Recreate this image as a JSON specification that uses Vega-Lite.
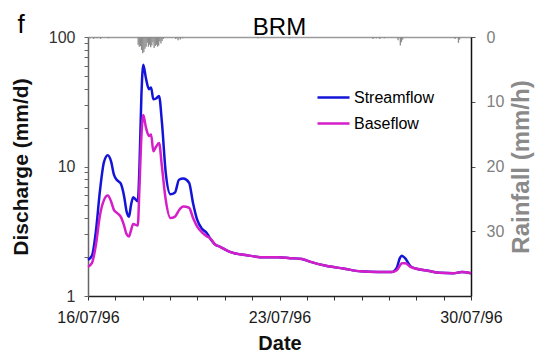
{
  "$schema": "https://vega.github.io/schema/vega-lite/v6.json",
  "width": 383,
  "height": 259,
  "autosize": {"type": "none"},
  "padding": {"left": 88, "top": 37, "right": 68, "bottom": 56},
  "background": "white",
  "config": {
    "font": "Liberation Sans",
    "view": {"stroke": null},
    "axis": {"grid": false}
  },
  "title": {"text": "BRM", "fontSize": 24, "fontWeight": "normal", "color": "#000000", "anchor": "middle", "frame": "group", "offset": -29},
  "datasets": {
    "flow": [
      {"series": "Streamflow", "date": "1996-07-16T00:00", "q": 1.9},
      {"series": "Streamflow", "date": "1996-07-16T03:30", "q": 2.05},
      {"series": "Streamflow", "date": "1996-07-16T07:00", "q": 3.2},
      {"series": "Streamflow", "date": "1996-07-16T10:30", "q": 6.5},
      {"series": "Streamflow", "date": "1996-07-16T14:00", "q": 10.8},
      {"series": "Streamflow", "date": "1996-07-16T17:20", "q": 12.2},
      {"series": "Streamflow", "date": "1996-07-16T20:10", "q": 11.0},
      {"series": "Streamflow", "date": "1996-07-16T22:50", "q": 8.6},
      {"series": "Streamflow", "date": "1996-07-17T01:10", "q": 7.9},
      {"series": "Streamflow", "date": "1996-07-17T04:40", "q": 7.4},
      {"series": "Streamflow", "date": "1996-07-17T07:40", "q": 5.9},
      {"series": "Streamflow", "date": "1996-07-17T09:50", "q": 4.5},
      {"series": "Streamflow", "date": "1996-07-17T12:00", "q": 4.1},
      {"series": "Streamflow", "date": "1996-07-17T13:40", "q": 5.0},
      {"series": "Streamflow", "date": "1996-07-17T15:40", "q": 5.8},
      {"series": "Streamflow", "date": "1996-07-17T19:40", "q": 5.4},
      {"series": "Streamflow", "date": "1996-07-17T21:10", "q": 10},
      {"series": "Streamflow", "date": "1996-07-17T22:50", "q": 35},
      {"series": "Streamflow", "date": "1996-07-18T00:30", "q": 61},
      {"series": "Streamflow", "date": "1996-07-18T02:50", "q": 48},
      {"series": "Streamflow", "date": "1996-07-18T05:30", "q": 39.5},
      {"series": "Streamflow", "date": "1996-07-18T07:20", "q": 40.8},
      {"series": "Streamflow", "date": "1996-07-18T09:20", "q": 33},
      {"series": "Streamflow", "date": "1996-07-18T11:40", "q": 33.5},
      {"series": "Streamflow", "date": "1996-07-18T14:20", "q": 35},
      {"series": "Streamflow", "date": "1996-07-18T16:50", "q": 22},
      {"series": "Streamflow", "date": "1996-07-18T20:10", "q": 9},
      {"series": "Streamflow", "date": "1996-07-19T00:20", "q": 6.1},
      {"series": "Streamflow", "date": "1996-07-19T04:20", "q": 6.3},
      {"series": "Streamflow", "date": "1996-07-19T07:50", "q": 7.9},
      {"series": "Streamflow", "date": "1996-07-19T11:40", "q": 8.07},
      {"series": "Streamflow", "date": "1996-07-19T16:40", "q": 7.5},
      {"series": "Streamflow", "date": "1996-07-19T20:10", "q": 5.2},
      {"series": "Streamflow", "date": "1996-07-19T23:40", "q": 3.9},
      {"series": "Streamflow", "date": "1996-07-20T04:00", "q": 3.3},
      {"series": "Streamflow", "date": "1996-07-20T08:00", "q": 3.08},
      {"series": "Streamflow", "date": "1996-07-20T11:00", "q": 2.8},
      {"series": "Streamflow", "date": "1996-07-20T15:30", "q": 2.5},
      {"series": "Streamflow", "date": "1996-07-20T20:00", "q": 2.4},
      {"series": "Streamflow", "date": "1996-07-21T04:30", "q": 2.19},
      {"series": "Streamflow", "date": "1996-07-21T19:30", "q": 2.06},
      {"series": "Streamflow", "date": "1996-07-22T10:50", "q": 1.99},
      {"series": "Streamflow", "date": "1996-07-22T22:40", "q": 1.99},
      {"series": "Streamflow", "date": "1996-07-23T09:10", "q": 1.96},
      {"series": "Streamflow", "date": "1996-07-23T19:40", "q": 1.93},
      {"series": "Streamflow", "date": "1996-07-24T01:50", "q": 1.85},
      {"series": "Streamflow", "date": "1996-07-24T16:40", "q": 1.71},
      {"series": "Streamflow", "date": "1996-07-25T08:00", "q": 1.63},
      {"series": "Streamflow", "date": "1996-07-25T23:10", "q": 1.55},
      {"series": "Streamflow", "date": "1996-07-26T14:20", "q": 1.53},
      {"series": "Streamflow", "date": "1996-07-27T02:20", "q": 1.53},
      {"series": "Streamflow", "date": "1996-07-27T06:50", "q": 1.65},
      {"series": "Streamflow", "date": "1996-07-27T09:40", "q": 1.97},
      {"series": "Streamflow", "date": "1996-07-27T11:20", "q": 2.05},
      {"series": "Streamflow", "date": "1996-07-27T14:20", "q": 1.95},
      {"series": "Streamflow", "date": "1996-07-27T18:50", "q": 1.7},
      {"series": "Streamflow", "date": "1996-07-27T23:20", "q": 1.63},
      {"series": "Streamflow", "date": "1996-07-28T11:20", "q": 1.56},
      {"series": "Streamflow", "date": "1996-07-28T20:20", "q": 1.51},
      {"series": "Streamflow", "date": "1996-07-29T08:30", "q": 1.5},
      {"series": "Streamflow", "date": "1996-07-29T16:00", "q": 1.53},
      {"series": "Streamflow", "date": "1996-07-30T00:00", "q": 1.5},
      {"series": "Baseflow", "date": "1996-07-16T00:00", "q": 1.68},
      {"series": "Baseflow", "date": "1996-07-16T03:30", "q": 1.8},
      {"series": "Baseflow", "date": "1996-07-16T07:00", "q": 2.5},
      {"series": "Baseflow", "date": "1996-07-16T10:30", "q": 4.2},
      {"series": "Baseflow", "date": "1996-07-16T14:00", "q": 5.5},
      {"series": "Baseflow", "date": "1996-07-16T17:20", "q": 5.96},
      {"series": "Baseflow", "date": "1996-07-16T20:10", "q": 5.4},
      {"series": "Baseflow", "date": "1996-07-16T22:50", "q": 4.6},
      {"series": "Baseflow", "date": "1996-07-17T01:10", "q": 4.4},
      {"series": "Baseflow", "date": "1996-07-17T04:40", "q": 4.1},
      {"series": "Baseflow", "date": "1996-07-17T07:40", "q": 3.5},
      {"series": "Baseflow", "date": "1996-07-17T09:50", "q": 3.0},
      {"series": "Baseflow", "date": "1996-07-17T12:00", "q": 2.88},
      {"series": "Baseflow", "date": "1996-07-17T13:40", "q": 3.2},
      {"series": "Baseflow", "date": "1996-07-17T15:40", "q": 3.6},
      {"series": "Baseflow", "date": "1996-07-17T19:40", "q": 3.5},
      {"series": "Baseflow", "date": "1996-07-17T21:10", "q": 7},
      {"series": "Baseflow", "date": "1996-07-17T22:50", "q": 17},
      {"series": "Baseflow", "date": "1996-07-18T00:30", "q": 25},
      {"series": "Baseflow", "date": "1996-07-18T02:50", "q": 20},
      {"series": "Baseflow", "date": "1996-07-18T05:30", "q": 17.2},
      {"series": "Baseflow", "date": "1996-07-18T07:20", "q": 17.7},
      {"series": "Baseflow", "date": "1996-07-18T09:20", "q": 13.1},
      {"series": "Baseflow", "date": "1996-07-18T11:40", "q": 14.2},
      {"series": "Baseflow", "date": "1996-07-18T14:20", "q": 15.2},
      {"series": "Baseflow", "date": "1996-07-18T16:50", "q": 10},
      {"series": "Baseflow", "date": "1996-07-18T20:10", "q": 5.55},
      {"series": "Baseflow", "date": "1996-07-19T00:20", "q": 4.0},
      {"series": "Baseflow", "date": "1996-07-19T04:20", "q": 4.1},
      {"series": "Baseflow", "date": "1996-07-19T07:50", "q": 4.6},
      {"series": "Baseflow", "date": "1996-07-19T11:40", "q": 4.9},
      {"series": "Baseflow", "date": "1996-07-19T16:40", "q": 4.8},
      {"series": "Baseflow", "date": "1996-07-19T20:10", "q": 4.0},
      {"series": "Baseflow", "date": "1996-07-19T23:40", "q": 3.45},
      {"series": "Baseflow", "date": "1996-07-20T04:00", "q": 3.1},
      {"series": "Baseflow", "date": "1996-07-20T08:00", "q": 2.9},
      {"series": "Baseflow", "date": "1996-07-20T11:00", "q": 2.8},
      {"series": "Baseflow", "date": "1996-07-20T15:30", "q": 2.5},
      {"series": "Baseflow", "date": "1996-07-20T20:00", "q": 2.4},
      {"series": "Baseflow", "date": "1996-07-21T04:30", "q": 2.19},
      {"series": "Baseflow", "date": "1996-07-21T19:30", "q": 2.06},
      {"series": "Baseflow", "date": "1996-07-22T10:50", "q": 1.99},
      {"series": "Baseflow", "date": "1996-07-22T22:40", "q": 1.99},
      {"series": "Baseflow", "date": "1996-07-23T09:10", "q": 1.96},
      {"series": "Baseflow", "date": "1996-07-23T19:40", "q": 1.93},
      {"series": "Baseflow", "date": "1996-07-24T01:50", "q": 1.85},
      {"series": "Baseflow", "date": "1996-07-24T16:40", "q": 1.71},
      {"series": "Baseflow", "date": "1996-07-25T08:00", "q": 1.63},
      {"series": "Baseflow", "date": "1996-07-25T23:10", "q": 1.55},
      {"series": "Baseflow", "date": "1996-07-26T14:20", "q": 1.53},
      {"series": "Baseflow", "date": "1996-07-27T02:20", "q": 1.53},
      {"series": "Baseflow", "date": "1996-07-27T06:50", "q": 1.58},
      {"series": "Baseflow", "date": "1996-07-27T09:40", "q": 1.72},
      {"series": "Baseflow", "date": "1996-07-27T11:20", "q": 1.79},
      {"series": "Baseflow", "date": "1996-07-27T14:20", "q": 1.79},
      {"series": "Baseflow", "date": "1996-07-27T18:50", "q": 1.68},
      {"series": "Baseflow", "date": "1996-07-27T23:20", "q": 1.63},
      {"series": "Baseflow", "date": "1996-07-28T11:20", "q": 1.56},
      {"series": "Baseflow", "date": "1996-07-28T20:20", "q": 1.51},
      {"series": "Baseflow", "date": "1996-07-29T08:30", "q": 1.5},
      {"series": "Baseflow", "date": "1996-07-29T16:00", "q": 1.53},
      {"series": "Baseflow", "date": "1996-07-30T00:00", "q": 1.5}
    ],
    "rain": [
      {"date": "1996-07-16T02:00", "rain": 0.2},
      {"date": "1996-07-16T05:00", "rain": 0.3},
      {"date": "1996-07-16T08:00", "rain": 0.2},
      {"date": "1996-07-16T11:00", "rain": 0.3},
      {"date": "1996-07-16T18:00", "rain": 0.2},
      {"date": "1996-07-17T20:00", "rain": 1.2},
      {"date": "1996-07-17T21:00", "rain": 1.5},
      {"date": "1996-07-17T22:00", "rain": 1.4},
      {"date": "1996-07-17T23:00", "rain": 2.0},
      {"date": "1996-07-18T00:00", "rain": 2.5},
      {"date": "1996-07-18T01:00", "rain": 2.3},
      {"date": "1996-07-18T02:00", "rain": 1.8},
      {"date": "1996-07-18T03:00", "rain": 1.5},
      {"date": "1996-07-18T04:00", "rain": 0.9},
      {"date": "1996-07-18T05:00", "rain": 1.5},
      {"date": "1996-07-18T06:00", "rain": 1.2},
      {"date": "1996-07-18T07:00", "rain": 1.6},
      {"date": "1996-07-18T08:00", "rain": 1.3},
      {"date": "1996-07-18T09:00", "rain": 0.8},
      {"date": "1996-07-18T10:00", "rain": 1.7},
      {"date": "1996-07-18T11:00", "rain": 1.4},
      {"date": "1996-07-18T12:00", "rain": 1.2},
      {"date": "1996-07-18T13:00", "rain": 1.5},
      {"date": "1996-07-18T14:00", "rain": 1.3},
      {"date": "1996-07-18T15:00", "rain": 0.7},
      {"date": "1996-07-18T16:00", "rain": 1.0},
      {"date": "1996-07-18T17:00", "rain": 0.6},
      {"date": "1996-07-18T18:00", "rain": 0.3},
      {"date": "1996-07-19T05:00", "rain": 0.3},
      {"date": "1996-07-19T07:00", "rain": 0.5},
      {"date": "1996-07-19T09:00", "rain": 0.4},
      {"date": "1996-07-19T11:00", "rain": 0.2},
      {"date": "1996-07-22T05:00", "rain": 0.2},
      {"date": "1996-07-23T09:00", "rain": 0.2},
      {"date": "1996-07-26T10:00", "rain": 0.3},
      {"date": "1996-07-26T13:00", "rain": 0.2},
      {"date": "1996-07-26T16:00", "rain": 0.3},
      {"date": "1996-07-26T20:00", "rain": 0.2},
      {"date": "1996-07-27T08:00", "rain": 0.5},
      {"date": "1996-07-27T10:00", "rain": 1.3},
      {"date": "1996-07-27T11:00", "rain": 0.8},
      {"date": "1996-07-27T12:00", "rain": 0.4},
      {"date": "1996-07-29T10:00", "rain": 0.3},
      {"date": "1996-07-29T13:00", "rain": 0.9},
      {"date": "1996-07-29T14:00", "rain": 0.4}
    ]
  },
  "layer": [
    {
      "data": {"name": "flow"},
      "mark": {"type": "line", "strokeWidth": 2.5, "interpolate": "monotone"},
      "encoding": {
        "x": {
          "field": "date", "type": "temporal",
          "scale": {"domain": [{"year": 1996, "month": 7, "date": 16}, {"year": 1996, "month": 7, "date": 30}], "padding": 0, "nice": false},
          "axis": {
            "orient": "bottom", "title": "Date",
            "tickCount": {"interval": "day", "step": 1},
            "labelExpr": "date(datum.value) % 7 == 2 ? timeFormat(datum.value, '%d/%m/%y') : ''",
            "labelOverlap": false, "labelFlush": false, "labelBound": false,
            "labelFontSize": 16, "labelColor": "#1a1a1a", "labelPadding": 9,
            "tickSize": 4, "tickColor": "#333333", "domainColor": "#222222", "domainWidth": 1.5,
            "titleFontSize": 20, "titleFontWeight": "bold", "titleColor": "#111111", "titlePadding": 8
          }
        },
        "y": {
          "field": "q", "type": "quantitative",
          "scale": {"type": "log", "domain": [1, 100]},
          "axis": {
            "orient": "left", "title": "Discharge (mm/d)",
            "values": [1, 2, 3, 4, 5, 6, 7, 8, 9, 10, 20, 30, 40, 50, 60, 70, 80, 90, 100],
            "labelExpr": "datum.value == 1 || datum.value == 10 || datum.value == 100 ? format(datum.value, 'd') : ''",
            "labelOverlap": false, "labelFlush": false,
            "labelFontSize": 16, "labelColor": "#333333", "labelPadding": 9,
            "tickSize": 4, "tickColor": "#666666", "domainColor": "#666666", "domainWidth": 1.5,
            "titleFontSize": 21, "titleFontWeight": "bold", "titleColor": "#111111", "titlePadding": 17
          }
        },
        "color": {
          "field": "series", "type": "nominal",
          "scale": {"domain": ["Streamflow", "Baseflow"], "range": ["#1414d8", "#d41ec8"]},
          "legend": {
            "orient": "none", "legendX": 228, "legendY": 43, "title": null, "padding": 0,
            "symbolType": "stroke", "symbolSize": 1024, "symbolStrokeWidth": 2.5,
            "labelFontSize": 16, "labelColor": "#000000", "labelOffset": 3, "rowPadding": 0
          }
        }
      }
    },
    {
      "data": {"name": "rain"},
      "mark": {"type": "bar", "width": 1.3, "color": "#8c8c8c"},
      "encoding": {
        "x": {
          "field": "date", "type": "temporal",
          "axis": {
            "orient": "top", "title": "f", "labels": false, "ticks": false,
            "domainColor": "#9a9a9a", "domainWidth": 1.5,
            "titleAnchor": "start", "titleAlign": "left", "titleAngle": 0,
            "titleX": -71, "titleY": -5, "titleBaseline": "alphabetic",
            "titleFontSize": 26, "titleFontWeight": "normal", "titleColor": "#000000"
          }
        },
        "y": {
          "field": "rain", "type": "quantitative",
          "scale": {"domain": [0, 40], "reverse": true, "nice": false},
          "axis": {
            "orient": "right", "title": "Rainfall (mm/h)",
            "values": [0, 10, 20, 30],
            "labelFontSize": 16, "labelColor": "#808080", "labelPadding": 11, "labelFlush": false,
            "tickSize": 4, "tickColor": "#555555", "domainColor": "#111111", "domainWidth": 1.5,
            "titleFontSize": 24, "titleFontWeight": "bold", "titleColor": "#8a8a8a",
            "titleAngle": 270, "titleBaseline": "top", "titlePadding": 6
          }
        }
      }
    }
  ],
  "resolve": {"scale": {"y": "independent"}, "axis": {"x": "independent", "y": "independent"}}
}
